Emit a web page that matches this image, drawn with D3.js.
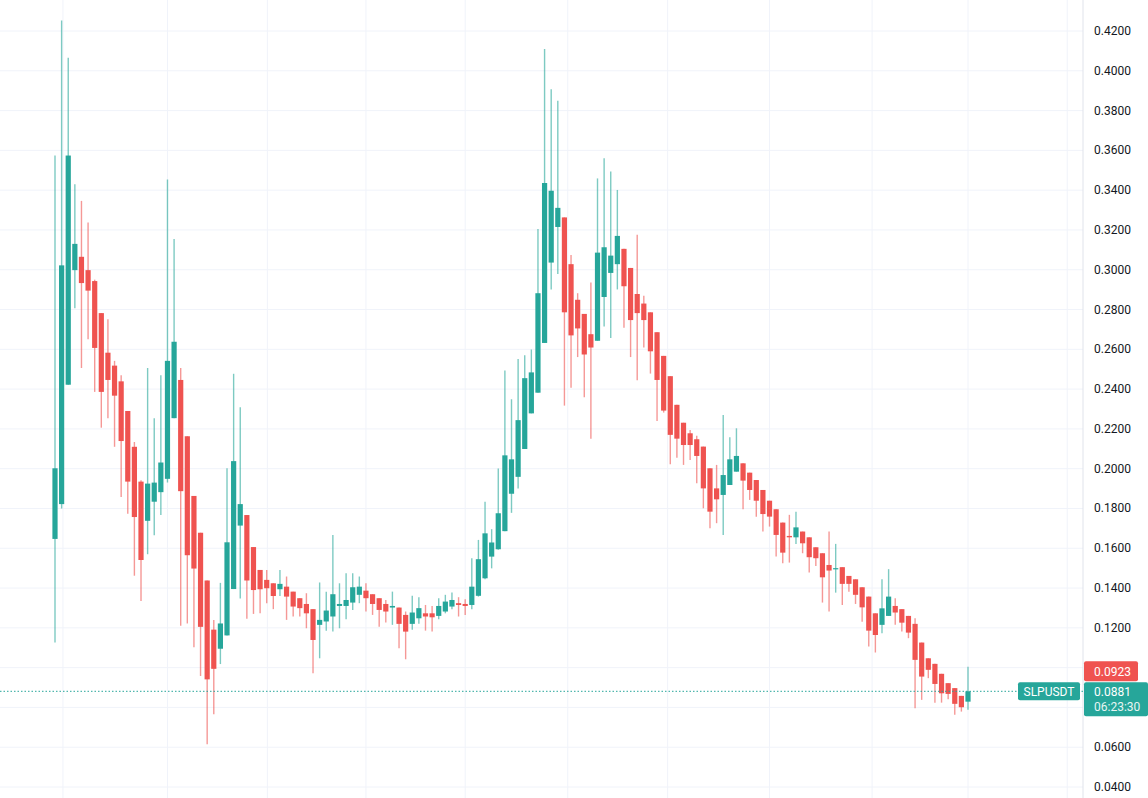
<!DOCTYPE html>
<html><head><meta charset="utf-8">
<script src="https://cdn.jsdelivr.net/npm/d3@7"></script>
<style>body{margin:0;background:#fff}svg{display:block}</style>
</head><body>
<svg id="c" width="1148" height="798"></svg>
<script>
const opens=[.1647,.1822,.2422,.2998,.3065,.2998,.2943,.2782,.2583,.2518,.2439,.2290,.2110,.1935,.1738,.1834,.1882,.1949,.2254,.2446,.2163,.1863,.1678,.1438,.1191,.1095,.1162,.1395,.1714,.1767,.1606,.1491,.1441,.1424,.1394,.1407,.1382,.1349,.1320,.1294,.1215,.1232,.1257,.1310,.1310,.1327,.1366,.1387,.1369,.1349,.1320,.1302,.1302,.1265,.1220,.1248,.1273,.1273,.1260,.1282,.1307,.1324,.1320,.1315,.1361,.1449,.1558,.1595,.1686,.1874,.1959,.2099,.2278,.2382,.2632,.3036,.3215,.3263,.3028,.2849,.2778,.2676,.2643,.2863,.2984,.3028,.3105,.3009,.2878,.2830,.2786,.2686,.2567,.2465,.2321,.2231,.2178,.2148,.2111,.2002,.1901,.1868,.1918,.1985,.2027,.1980,.1943,.1893,.1839,.1796,.1729,.1662,.1655,.1684,.1655,.1605,.1575,.1516,.1494,.1505,.1461,.1444,.1404,.1357,.1273,.1215,.1260,.1310,.1294,.1260,.1220,.1126,.1047,.1019,.0969,.0922,.0897,.0858,.0829];
const highs=[.3574,.4253,.4066,.3430,.3346,.3238,.2950,.2782,.2751,.2542,.2470,.2290,.2134,.1942,.2506,.2254,.2470,.3454,.3154,.2506,.2163,.1863,.1678,.1438,.1239,.1426,.2002,.2477,.2309,.1767,.1606,.1491,.1491,.1424,.1491,.1458,.1382,.1349,.1374,.1294,.1428,.1382,.1667,.1424,.1474,.1474,.1458,.1424,.1369,.1349,.1340,.1382,.1302,.1282,.1361,.1354,.1315,.1310,.1349,.1366,.1378,.1354,.1344,.1550,.1642,.1834,.1696,.2001,.2494,.2349,.2551,.2570,.2599,.3205,.4109,.3907,.3849,.3263,.3074,.2882,.2778,.2936,.3459,.3561,.3494,.3401,.3105,.3009,.3176,.2869,.2786,.2686,.2567,.2465,.2321,.2231,.2194,.2165,.2111,.2002,.2019,.2270,.2158,.2203,.2027,.1980,.1943,.1893,.1839,.1796,.1729,.1768,.1784,.1684,.1655,.1605,.1575,.1684,.1622,.1505,.1461,.1444,.1404,.1357,.1273,.1444,.1495,.1349,.1294,.1260,.1248,.1126,.1047,.1019,.0969,.0922,.0897,.0858,.1005];
const lows=[.1126,.1800,.2422,.2806,.2506,.2650,.2386,.2206,.2254,.2110,.1858,.1774,.1462,.1335,.1570,.1666,.1767,.1930,.2254,.1210,.1222,.1102,.0958,.0615,.0766,.1018,.1162,.1395,.1347,.1246,.1270,.1273,.1324,.1294,.1360,.1240,.1257,.1257,.1198,.0972,.1047,.1186,.1181,.1198,.1243,.1290,.1324,.1282,.1265,.1206,.1227,.1215,.1098,.1042,.1190,.1220,.1186,.1181,.1243,.1273,.1294,.1257,.1265,.1294,.1357,.1444,.1499,.1592,.1686,.1778,.1901,.2099,.2278,.2382,.2632,.2901,.2978,.2317,.2407,.2561,.2359,.2151,.2643,.2715,.2657,.2901,.2709,.2561,.2445,.2609,.2478,.2240,.2282,.2022,.2055,.2019,.2044,.1927,.1801,.1700,.1726,.1667,.1918,.1985,.1796,.1843,.1759,.1684,.1709,.1558,.1525,.1528,.1622,.1575,.1478,.1511,.1327,.1282,.1377,.1315,.1382,.1320,.1231,.1106,.1076,.1173,.1260,.1215,.1181,.1148,.0796,.0838,.0947,.0824,.0824,.0841,.0763,.0779,.0788];
const closes=[.2002,.3022,.3574,.3130,.2933,.2895,.2607,.2386,.2446,.2367,.2139,.1935,.1757,.1541,.1925,.1930,.2031,.2542,.2638,.1887,.1565,.1498,.1205,.0941,.0994,.1222,.1630,.2038,.1822,.1438,.1390,.1394,.1399,.1360,.1421,.1357,.1307,.1299,.1273,.1139,.1240,.1287,.1369,.1320,.1340,.1404,.1407,.1349,.1320,.1290,.1282,.1310,.1220,.1181,.1277,.1299,.1257,.1253,.1310,.1332,.1340,.1315,.1310,.1407,.1545,.1675,.1629,.1776,.2067,.2047,.2244,.2455,.2484,.2882,.3436,.3397,.3311,.2786,.2670,.2705,.2574,.2609,.3086,.3113,.3071,.3170,.2917,.2747,.2782,.2747,.2590,.2446,.2292,.2170,.2151,.2119,.2119,.2064,.1901,.1784,.1846,.1968,.2047,.2064,.1940,.1893,.1839,.1772,.1759,.1667,.1578,.1655,.1705,.1625,.1555,.1550,.1454,.1488,.1500,.1421,.1421,.1366,.1303,.1186,.1164,.1298,.1357,.1277,.1226,.1176,.1039,.0955,.0989,.0918,.0871,.0868,.0818,.0801,.0881];
const yTicks=[0.04,0.06,0.08,0.10,0.12,0.14,0.16,0.18,0.20,0.22,0.24,0.26,0.28,0.30,0.32,0.34,0.36,0.38,0.40,0.42];
const hiddenTicks=[0.08,0.10];
const vGridIdx=[1.2,17,32.1,47,62,77.5,92.6,108,123.5,138,153];
const symbol="SLPUSDT", lastPrice=0.0881, prevClose=0.0923, countdown="06:23:30";

const svg=d3.select("#c");
const x=d3.scaleLinear().domain([0,opens.length-1]).range([55,968]);
const y=d3.scaleLinear().domain([0.04,0.42]).range([787,31]);
const axisX=1083;
const UP="#26a69a", DN="#ef5350";
const F="Roboto, 'Noto Sans', sans-serif";

const g=svg.append("g");
g.selectAll(".hg").data(yTicks).join("line")
 .attr("x1",0).attr("x2",axisX).attr("y1",d=>y(d)).attr("y2",d=>y(d))
 .attr("stroke","#f0f3fa").attr("stroke-width",1);
g.selectAll(".vg").data(vGridIdx).join("line")
 .attr("x1",d=>x(d)).attr("x2",d=>x(d)).attr("y1",0).attr("y2",798)
 .attr("stroke","#f0f3fa");
g.append("line").attr("x1",axisX).attr("x2",axisX).attr("y1",0).attr("y2",798).attr("stroke","#e0e3eb");

const data=opens.map((o,i)=>({i,o,h:highs[i],l:lows[i],c:closes[i]}));
const cg=svg.append("g");
cg.selectAll(".w").data(data).join("line")
 .attr("x1",d=>x(d.i)).attr("x2",d=>x(d.i))
 .attr("y1",d=>y(d.h)).attr("y2",d=>y(d.l))
 .attr("stroke",d=>d.c>=d.o?UP:DN).attr("stroke-opacity",0.6).attr("stroke-width",1.4);
cg.selectAll(".b").data(data).join("rect")
 .attr("x",d=>x(d.i)-2.6).attr("width",5.2)
 .attr("y",d=>y(Math.max(d.o,d.c)))
 .attr("height",d=>Math.max(1.2,Math.abs(y(d.o)-y(d.c))))
 .attr("fill",d=>d.c>=d.o?UP:DN);

svg.append("line").attr("x1",0).attr("x2",axisX).attr("y1",y(lastPrice)).attr("y2",y(lastPrice))
 .attr("stroke",UP).attr("stroke-dasharray","1.5,2").attr("stroke-width",1);

svg.selectAll(".yt").data(yTicks.filter(t=>!hiddenTicks.includes(t))).join("text")
 .attr("x",1094).attr("y",d=>y(d)+4).text(d=>d.toFixed(4))
 .attr("font-family",F).attr("font-size",12).attr("fill","#131722");

const ly=y(lastPrice);
// prev close label (stacked above last price box)
svg.append("rect").attr("x",axisX+1).attr("y",ly-30).attr("width",54).attr("height",20).attr("rx",2).attr("fill",DN);
svg.append("text").attr("x",1094).attr("y",ly-15.5).text(prevClose.toFixed(4))
 .attr("font-family",F).attr("font-size",12).attr("fill","#fff");
// last price label
svg.append("rect").attr("x",axisX+1).attr("y",ly-9).attr("width",64).attr("height",34).attr("rx",2).attr("fill",UP);
svg.append("text").attr("x",1094).attr("y",ly+4.5).text(lastPrice.toFixed(4))
 .attr("font-family",F).attr("font-size",12).attr("fill","#fff");
svg.append("text").attr("x",1094).attr("y",ly+20).text(countdown)
 .attr("font-family",F).attr("font-size",12).attr("fill","#e8f5f3");
// symbol label
svg.append("rect").attr("x",1018).attr("y",ly-9).attr("width",62).attr("height",18).attr("rx",2).attr("fill",UP);
svg.append("text").attr("x",1049).attr("y",ly+4.5).attr("text-anchor","middle").text(symbol)
 .attr("font-family",F).attr("font-size",12).attr("fill","#fff");
</script>
</body></html>
